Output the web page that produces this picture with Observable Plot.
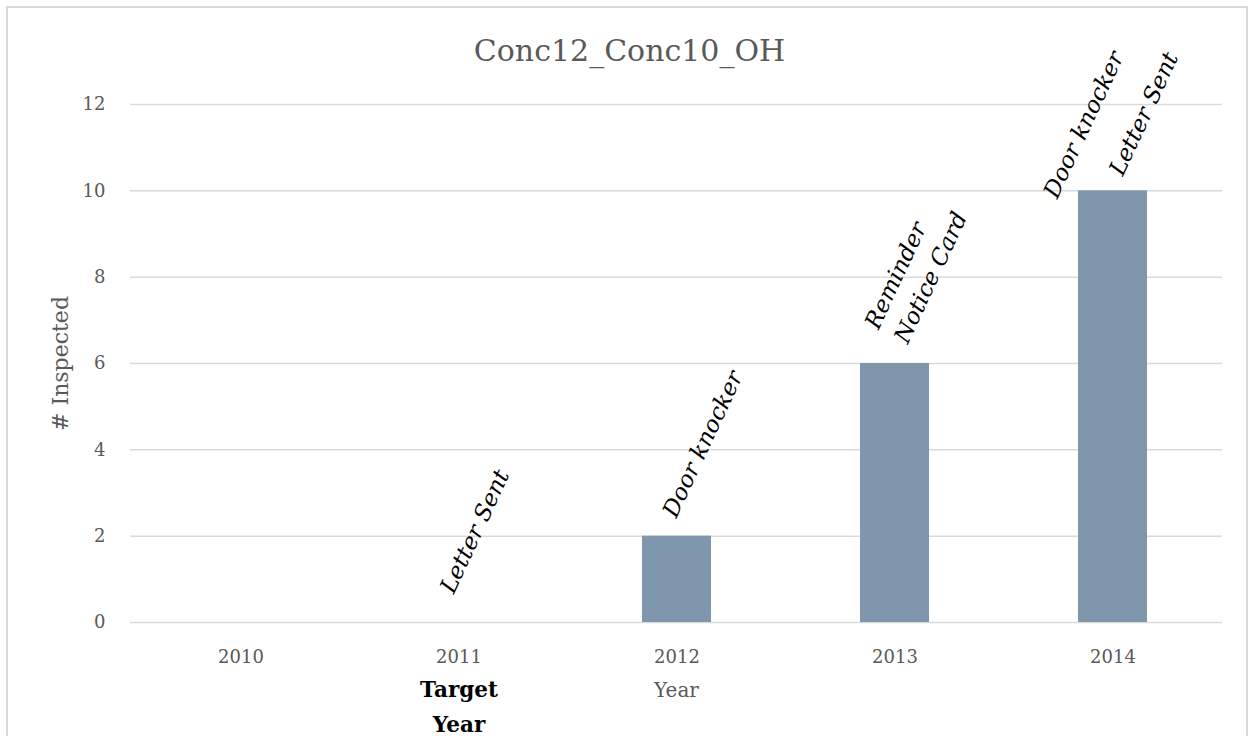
<!DOCTYPE html>
<html><head><meta charset="utf-8">
<script src="https://cdn.jsdelivr.net/npm/d3@7"></script>
<script src="https://cdn.jsdelivr.net/npm/@observablehq/plot@0.6"></script>
<style>
body{margin:0;background:#fff;}
#wrap{position:relative;width:1250px;height:736px;overflow:hidden;background:#fff;}
#frame{position:absolute;left:6px;top:6px;width:1242px;height:800px;border:2px solid #d9d9d9;box-sizing:border-box;}
#chart{position:absolute;left:0;top:0;}
</style></head><body>
<div id="wrap"><div id="frame"></div><div id="chart"></div></div>
<script>
// ---- data ----
const years = ["2010", "2011", "2012", "2013", "2014"];
const inspected = [0, 0, 2, 6, 10];
const yTicks = [0, 2, 4, 6, 8, 10, 12];
const chartTitle = "Conc12_Conc10_OH";
const yTitle = "# Inspected";
const xTitle = "Year";
const targetYear = "2011";
const targetLabel = "Target\nYear";
const noteYears = ["2011", "2012", "2013", "2013", "2014", "2014"];
const noteLines = ["Letter Sent", "Door knocker", "Reminder", "Notice Card", "Door knocker", "Letter Sent"];

// ---- build ----
const data = years.map((y, i) => ({year: y, value: inspected[i]}));
const valueOf = new Map(data.map(d => [d.year, d.value]));
const notes = noteYears.map((y, i) => ({year: y, value: valueOf.get(y), text: noteLines[i]}));
// label offsets (style, px): [dx, dy]
const noteOffsets = [[16, -91], [26, -92], [1, -88], [36, -86], [-29, -66], [31, -77]];

const FONT = "DejaVu Serif";
const GRAY = "#595959";

const chart = Plot.plot({
  width: 1250,
  height: 736,
  marginLeft: 130,
  marginRight: 28,
  marginTop: 104,
  marginBottom: 114,
  style: {fontFamily: FONT, background: "transparent", overflow: "visible"},
  x: {type: "band", domain: years, paddingInner: 0.684, paddingOuter: 0.342, label: null},
  y: {domain: [0, 12], label: null},
  marks: [
    Plot.gridY(yTicks, {stroke: "#d9d9d9", strokeOpacity: 1, strokeWidth: 1.5}),
    Plot.barY(data, {x: "year", y: "value", fill: "#7f97ad"}),
    Plot.axisY(yTicks, {tickSize: 0, tickPadding: 25, fontSize: 18, fill: GRAY, label: null}),
    Plot.axisX({tickSize: 0, tickPadding: 28, fontSize: 18, fill: GRAY, label: null}),
    Plot.text([yTitle], {frameAnchor: "left", textAnchor: "middle", dx: -70, rotate: -90, fontSize: 22, fill: GRAY, text: d => d}),
    Plot.text([xTitle], {frameAnchor: "bottom", dy: 68, lineAnchor: "middle", fontSize: 20, fill: GRAY, text: d => d}),
    Plot.text([chartTitle], {frameAnchor: "top", dx: -47, dy: -53, lineAnchor: "middle", fontSize: 30, fill: GRAY, text: d => d}),
    Plot.text([targetYear], {x: d => d, frameAnchor: "bottom", dy: 81, lineAnchor: "middle", lineHeight: 1.62, fontSize: 21.5, fontWeight: "bold", fill: "#000", text: () => targetLabel}),
    ...notes.map((n, i) => Plot.text([n], {
      x: "year", y: "value", text: "text",
      rotate: -65, textAnchor: "middle", lineAnchor: "middle",
      dx: noteOffsets[i][0], dy: noteOffsets[i][1],
      fontSize: 23, fontStyle: "italic", fill: "#000"
    }))
  ]
});
document.getElementById("chart").appendChild(chart);
</script>
</body></html>
